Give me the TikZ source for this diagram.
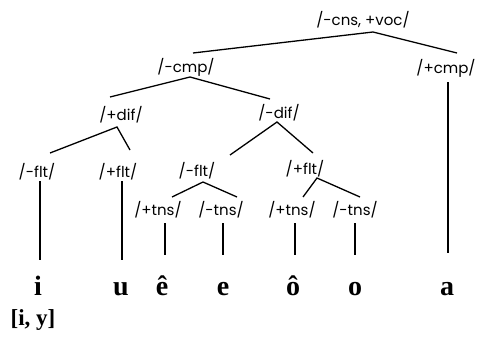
\documentclass[tikz,border=0pt]{standalone}
\usepackage{fontspec}
\setmainfont{Liberation Serif}
\newfontfamily\labfont{Poppins}
\begin{document}
\begin{tikzpicture}[x=1pt,y=-1pt,
  feat/.style={font=\labfont\fontsize{15}{17}\selectfont, inner sep=0pt, anchor=center},
  vow/.style={font=\bfseries\fontsize{28}{30}\selectfont, inner sep=0pt, anchor=base},
  edge/.style={line width=1.3pt, line cap=butt}]
\useasboundingbox (0,0) rectangle (486,337);
% feature labels
\node[feat] (root) at (363,20) {/-cns, +voc/};
\node[feat] (mcmp) at (186,67) {/-cmp/};
\node[feat] (pcmp) at (446,68) {/+cmp/};
\node[feat] (pdif) at (121,115) {/+dif/};
\node[feat] (mdif) at (279,113) {/-dif/};
\node[feat] (mflt1) at (37,172) {/-flt/};
\node[feat] (pflt1) at (118,172) {/+flt/};
\node[feat] (mflt2) at (197,171) {/-flt/};
\node[feat] (pflt2) at (305,169) {/+flt/};
\node[feat] (ptns1) at (158,210) {/+tns/};
\node[feat] (mtns1) at (221,210) {/-tns/};
\node[feat] (ptns2) at (292,210) {/+tns/};
\node[feat] (mtns2) at (355,210) {/-tns/};
% vowels
\node[vow] (vi) at (38,295) {i};
\node[vow] (vu) at (121,295) {u};
\node[vow] (vee) at (162,295) {ê};
\node[vow] (ve) at (223,295) {e};
\node[vow] (voo) at (293,295) {ô};
\node[vow] (vo) at (355,295) {o};
\node[vow] (va) at (447,295) {a};
\node[font=\bfseries\fontsize{23}{25}\selectfont, inner sep=0pt, anchor=base] (iy) at (33,325) {[i, y]};
% branch points and ends
\coordinate (rA) at (373,32);  \coordinate (rL) at (193,53); \coordinate (rR) at (457,53);
\coordinate (cA) at (190,77);  \coordinate (cL) at (110,97); \coordinate (cR) at (270,99);
\coordinate (dA) at (117,127); \coordinate (dL) at (50,153); \coordinate (dR) at (130,150);
\coordinate (eA) at (277,122); \coordinate (eL) at (230,155); \coordinate (eR) at (313,153);
\coordinate (fA) at (203,182); \coordinate (fL) at (172,197); \coordinate (fR) at (237,197);
\coordinate (gA) at (317,178); \coordinate (gL) at (303,197); \coordinate (gR) at (360,197);
\draw[edge] (rL) -- (rA) -- (rR);
\draw[edge] (cL) -- (cA) -- (cR);
\draw[edge] (dL) -- (dA) -- (dR);
\draw[edge] (eL) -- (eA) -- (eR);
\draw[edge] (fL) -- (fA) -- (fR);
\draw[edge] (gL) -- (gA) -- (gR);
% verticals
\coordinate (aT) at (448,82);  \coordinate (aB) at (448,253);
\coordinate (iT) at (40,181);  \coordinate (iB) at (40,260);
\coordinate (uT) at (122,181); \coordinate (uB) at (122,260);
\coordinate (t1T) at (165,223); \coordinate (t1B) at (165,255);
\coordinate (t2T) at (223,223); \coordinate (t2B) at (223,255);
\coordinate (t3T) at (295,223); \coordinate (t3B) at (295,255);
\coordinate (t4T) at (355,223); \coordinate (t4B) at (355,255);
\foreach \v in {a,i,u,t1,t2,t3,t4} \draw[edge] (\v T) -- (\v B);
\end{tikzpicture}
\end{document}
